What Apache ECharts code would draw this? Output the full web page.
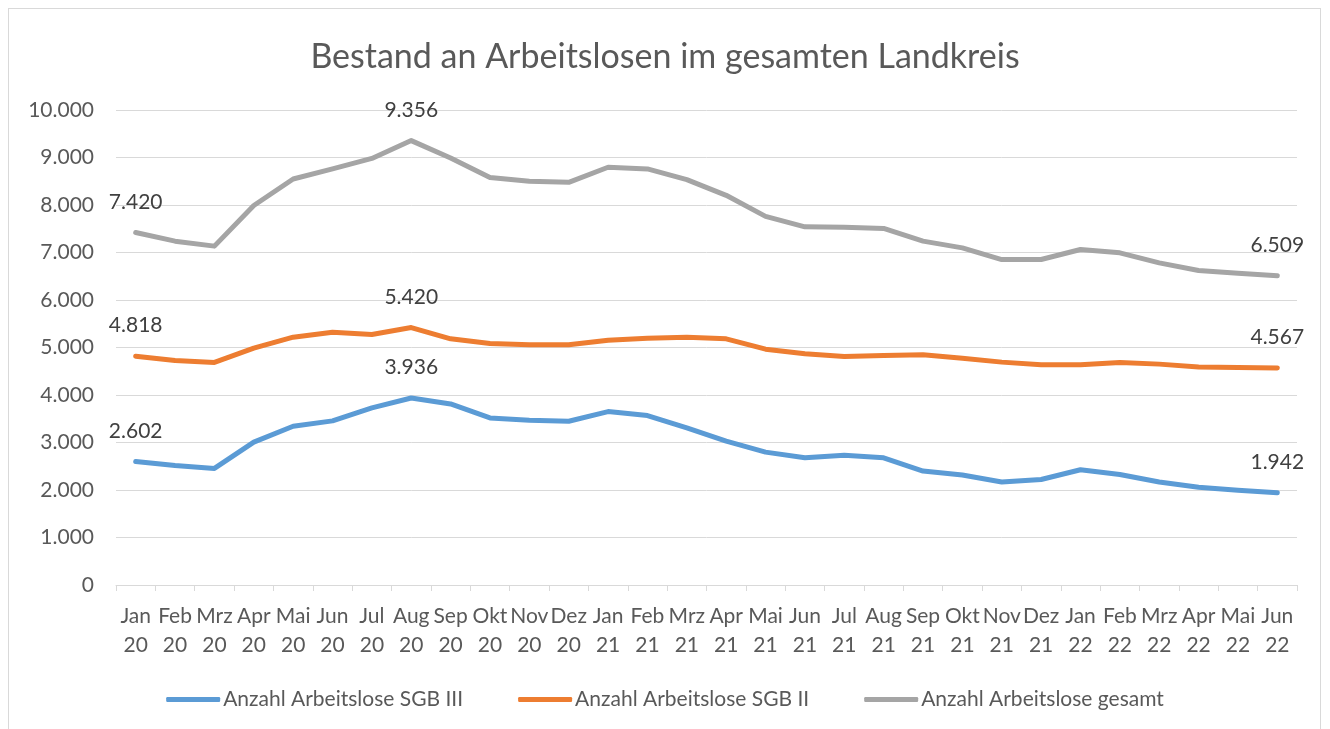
<!DOCTYPE html>
<html>
<head>
<meta charset="utf-8">
<script src="https://cdn.jsdelivr.net/npm/echarts@6/dist/echarts.min.js"></script>
<style>
html,body{margin:0;padding:0;background:#fff;}
#frame{position:absolute;left:8px;top:8px;width:1313px;height:730px;border:1px solid #d9d9d9;box-sizing:border-box;}
#chart{position:absolute;left:0;top:0;width:1330px;height:729px;}
</style>
</head>
<body>
<div id="frame"></div>
<div id="chart"></div>
<script>
const categories = ['Jan\n20','Feb\n20','Mrz\n20','Apr\n20','Mai\n20','Jun\n20','Jul\n20','Aug\n20','Sep\n20','Okt\n20','Nov\n20','Dez\n20',
  'Jan\n21','Feb\n21','Mrz\n21','Apr\n21','Mai\n21','Jun\n21','Jul\n21','Aug\n21','Sep\n21','Okt\n21','Nov\n21','Dez\n21',
  'Jan\n22','Feb\n22','Mrz\n22','Apr\n22','Mai\n22','Jun\n22'];
const sgb3 = [2602,2517,2454,3007,3343,3455,3729,3936,3811,3518,3469,3448,3651,3567,3308,3028,2797,2678,2734,2678,2398,2314,2168,2222,2426,2327,2167,2056,1993,1942];
const sgb2 = [4818,4727,4685,4986,5217,5322,5273,5420,5182,5084,5056,5056,5154,5196,5217,5182,4965,4867,4811,4832,4846,4776,4692,4636,4636,4685,4650,4587,4580,4567];
const gesamt = [7420,7239,7134,7990,8548,8759,8980,9356,8990,8577,8500,8478,8794,8759,8534,8204,7761,7541,7534,7506,7239,7098,6852,6852,7063,6993,6782,6620,6563,6509];
const labeledIdx = [0,7,29];
const yTicks = {min:0, max:10000, interval:1000};
const seriesNames = ['Anzahl Arbeitslose SGB III','Anzahl Arbeitslose SGB II','Anzahl Arbeitslose gesamt'];
const colors = ['#5B9BD5','#ED7D31','#A5A5A5'];

const fmt = v => String(v).replace(/\B(?=(\d{3})+(?!\d))/g, '.');
const FONT = 'Lato';

function mk(name, arr, color){
  return {
    name, type:'line',
    data: arr.map((v,i)=> labeledIdx.includes(i) ? {value:v, label:{show:true}} : v),
    showSymbol:true, showAllSymbol:true, symbol:'circle', symbolSize:0, smooth:false,
    lineStyle:{color, width:5, cap:'round', join:'round'},
    itemStyle:{color},
    label:{show:false, position:'top', distance:20, formatter:p=>fmt(p.value), color:'#404040', fontSize:21, fontFamily:FONT},
    labelLayout:{hideOverlap:false},
    emphasis:{disabled:true}, animation:false
  };
}

const chart = echarts.init(document.getElementById('chart'), null, {renderer:'canvas'});
chart.setOption({
  animation:false,
  title:{text:'Bestand an Arbeitslosen im gesamten Landkreis', left:'center', top:35,
    textStyle:{fontFamily:FONT, fontSize:34, fontWeight:'normal', color:'#595959'}},
  grid:{left:116, right:33, top:110, bottom:144},
  legend:{bottom:14, left:'center', itemWidth:54, itemHeight:5, itemGap:55, icon:'roundRect',
    data:seriesNames.map((n,i)=>({name:n, itemStyle:{color:colors[i], opacity:1}})),
    textStyle:{fontFamily:FONT, fontSize:21, color:'#595959', padding:[0,0,0,-2]}},
  xAxis:{type:'category', data:categories, boundaryGap:true,
    axisLine:{lineStyle:{color:'#d9d9d9', width:1}},
    axisTick:{show:true, length:6, lineStyle:{color:'#d9d9d9'}},
    axisLabel:{interval:0, margin:17, fontFamily:FONT, fontSize:21, color:'#595959', lineHeight:29}},
  yAxis:{type:'value', min:yTicks.min, max:yTicks.max, interval:yTicks.interval,
    axisLine:{show:false}, axisTick:{show:false},
    splitLine:{lineStyle:{color:'#d9d9d9', width:1}},
    axisLabel:{formatter:v=>fmt(v), margin:22, fontFamily:FONT, fontSize:21, color:'#595959'}},
  series:[mk(seriesNames[0], sgb3, colors[0]), mk(seriesNames[1], sgb2, colors[1]), mk(seriesNames[2], gesamt, colors[2])]
});
</script>
</body>
</html>
